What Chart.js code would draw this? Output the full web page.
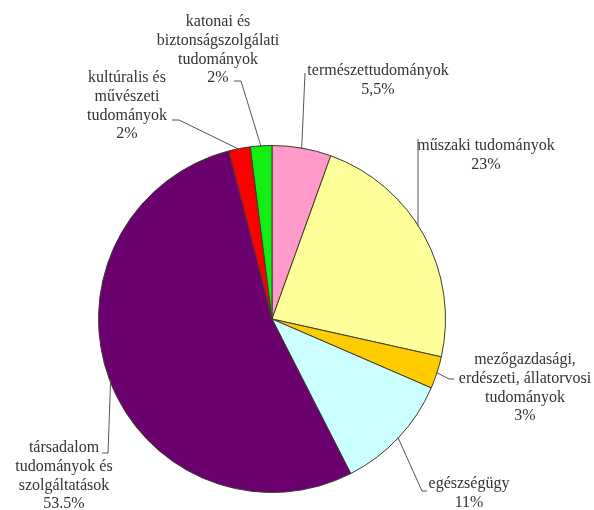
<!DOCTYPE html>
<html>
<head>
<meta charset="utf-8">
<script src="https://cdn.jsdelivr.net/npm/chart.js@4/dist/chart.umd.min.js"></script>
<style>
  html, body { margin: 0; padding: 0; background: #fff; }
  canvas { display: block; }
</style>
</head>
<body>
<canvas id="pie" width="594" height="510"></canvas>
<script>
// data (clockwise from 12 o'clock)
const categories = [
  ['természettudományok'],
  ['műszaki tudományok'],
  ['mezőgazdasági,', 'erdészeti, állatorvosi', 'tudományok'],
  ['egészségügy'],
  ['társadalom', 'tudományok és', 'szolgáltatások'],
  ['kultúralis és', 'művészeti', 'tudományok'],
  ['katonai és', 'biztonságszolgálati', 'tudományok']
];
const shares = [5.5, 23, 3, 11, 53.5, 2, 2];
const shareLabels = ['5,5%', '23%', '3%', '11%', '53.5%', '2%', '2%'];
const colors = ['#FF9ACB', '#FFFF99', '#FFCC00', '#CCFFFF', '#6B006E', '#FF0000', '#11EE11'];

// where each label sits and where its leader line starts (x, y of text, then elbow)
const labelLayout = [
  { cx: 378, y: 71, line: [[305, 73]] },
  { cx: 486, y: 146, line: [[418, 139]], vertical: true },
  { cx: 525, y: 360, line: [[454, 379], [449, 379]] },
  { cx: 469, y: 484, line: [[427, 491], [422, 491]] },
  { cx: 64, y: 448, line: [[102, 453], [108, 453]] },
  { cx: 127, y: 78, line: [[172, 120], [179, 120]] },
  { cx: 218, y: 22, line: [[234, 81], [241, 81]] }
];

const lineH = 18.7;

const pieLabels = {
  id: 'pieLabels',
  afterDraw(chart) {
    const ctx = chart.ctx;
    const arcs = chart.getDatasetMeta(0).data;
    ctx.save();
    ctx.font = '16px "Liberation Serif", "Times New Roman", serif';
    ctx.fillStyle = '#333';
    ctx.textAlign = 'center';
    ctx.textBaseline = 'middle';
    ctx.strokeStyle = '#555';
    ctx.lineWidth = 1;
    arcs.forEach((arc, i) => {
      const lay = labelLayout[i];
      const lines = categories[i].concat([shareLabels[i]]);
      lines.forEach((t, k) => ctx.fillText(t, lay.cx, lay.y + k * lineH));

      const mid = (arc.startAngle + arc.endAngle) / 2;
      let px = arc.x + Math.cos(mid) * (arc.outerRadius - 1);
      let py = arc.y + Math.sin(mid) * (arc.outerRadius - 1);
      if (lay.vertical) {
        // drop straight down onto the rim
        px = lay.line[0][0];
        const dx = px - arc.x;
        py = arc.y - Math.sqrt(arc.outerRadius * arc.outerRadius - dx * dx) + 1;
      }
      ctx.beginPath();
      ctx.moveTo(lay.line[0][0], lay.line[0][1]);
      for (let j = 1; j < lay.line.length; j++) ctx.lineTo(lay.line[j][0], lay.line[j][1]);
      ctx.lineTo(px, py);
      ctx.stroke();
    });
    ctx.restore();
  }
};

new Chart(document.getElementById('pie'), {
  type: 'pie',
  data: {
    labels: categories.map(c => c.join(' ')),
    datasets: [{
      data: shares,
      backgroundColor: colors,
      borderColor: '#3b3b2b',
      borderWidth: 1
    }]
  },
  options: {
    responsive: false,
    animation: false,
    layout: { padding: { left: 98, right: 148, top: 144, bottom: 16 } },
    plugins: {
      legend: { display: false },
      tooltip: { enabled: false }
    }
  },
  plugins: [pieLabels]
});
</script>
</body>
</html>
